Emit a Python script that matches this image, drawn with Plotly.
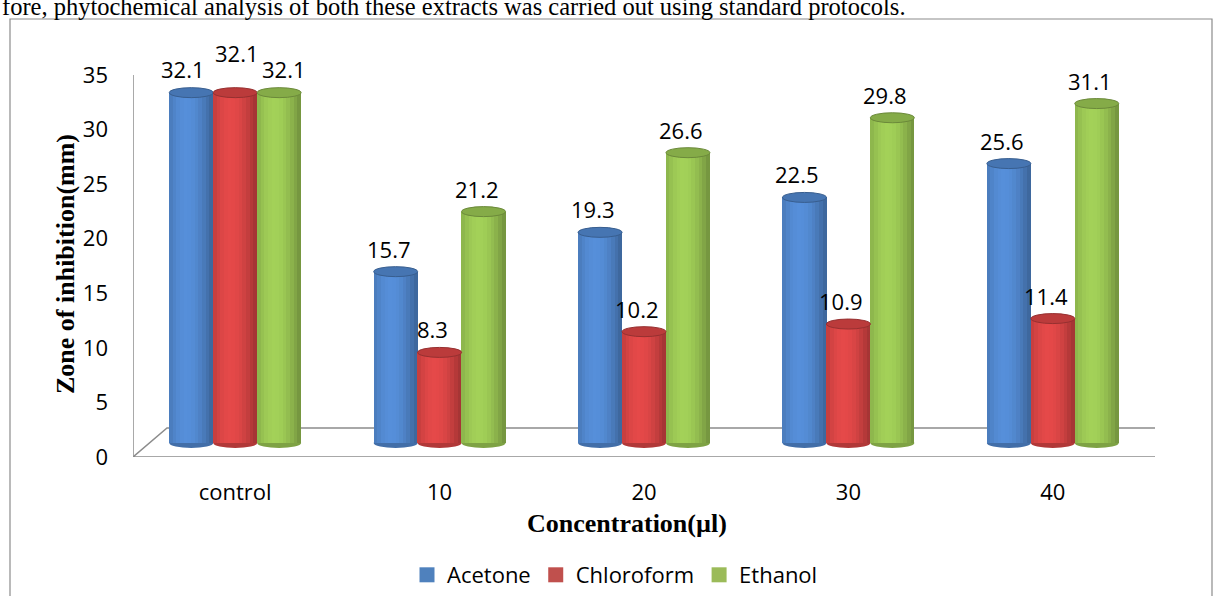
import math
import plotly.graph_objects as go

# ---- data -----------------------------------------------------------------
categories = ["control", "10", "20", "30", "40"]
series_names = ["Acetone", "Chloroform", "Ethanol"]
acetone = [32.1, 15.7, 19.3, 22.5, 25.6]
chloroform = [32.1, 8.3, 10.2, 10.9, 11.4]
ethanol = [32.1, 21.2, 26.6, 29.8, 31.1]
y_ticks = [0, 5, 10, 15, 20, 25, 30, 35]

series_values = [acetone, chloroform, ethanol]

# ---- styling --------------------------------------------------------------
legend_colors = ["#4F81BD", "#C0504D", "#9BBB59"]
body_rgb = [(78, 130, 198), (208, 66, 66), (148, 190, 80)]
TICK_FONT = "Open Sans"
TITLE_FONT = "Liberation Serif"

FIG_W, FIG_H = 1215, 596
M_L, M_R, M_T, M_B = 133, 60, 75, 139
PLOT_W = FIG_W - M_L - M_R
PLOT_H = FIG_H - M_T - M_B
Y_MAX = 35
PX_PER_UNIT = PLOT_H / Y_MAX
DEPTH_PX_Y = 14          # bars stand half-way into the floor
DEPTH_OFF = DEPTH_PX_Y / PX_PER_UNIT

BAR_W = 0.215             # width of one cylinder in category units
N_STRIPS = 12             # vertical slices used for cylinder shading
CAP_RY = 5 / PX_PER_UNIT  # half height of the elliptical caps


def px_to_paper_x(px):
    return (px - M_L) / PLOT_W


def px_to_paper_y(py):
    return (FIG_H - M_B - py) / PLOT_H


def shade(rgb, k):
    return "rgb({},{},{})".format(*[max(0, min(255, int(round(c * k)))) for c in rgb])


def shade_factor(t):
    # t in [-1, 1] across the cylinder; light comes slightly from the left
    c = math.cos((t + 0.2) * math.pi / 2.4)
    return 0.76 + 0.34 * max(0.0, c)


fig = go.Figure()

shapes = []
annotations = []
group_offsets = [-BAR_W, 0.0, BAR_W]
xs_cat = list(range(len(categories)))

for si, (vals, rgb) in enumerate(zip(series_values, body_rgb)):
    centers = [x + group_offsets[si] for x in xs_cat]
    strip_w = BAR_W / N_STRIPS
    for j in range(N_STRIPS):
        t = -1 + (2 * j + 1) / N_STRIPS
        fig.add_trace(go.Bar(
            x=[c + t * BAR_W / 2 for c in centers],
            y=vals,
            width=strip_w * 1.08,
            marker=dict(color=shade(rgb, shade_factor(t)), line=dict(width=0)),
            yaxis="y2",
            showlegend=False,
            hoverinfo="skip",
        ))
    for ci, (c, v) in enumerate(zip(centers, vals)):
        # top cap
        shapes.append(dict(
            type="circle", xref="x", yref="y2", layer="above",
            x0=c - BAR_W / 2, x1=c + BAR_W / 2, y0=v - CAP_RY, y1=v + CAP_RY,
            fillcolor=shade(rgb, 0.9), line=dict(color=shade(rgb, 0.72), width=1),
        ))
        # rounded bottom
        shapes.append(dict(
            type="circle", xref="x", yref="y2", layer="below",
            x0=c - BAR_W / 2, x1=c + BAR_W / 2, y0=-CAP_RY, y1=CAP_RY,
            fillcolor=shade(rgb, 0.85), line=dict(width=0),
        ))
        # value label
        xshift, yshift = -7, 23
        if ci == 0:
            xshift = [-8, 2, 5][si]
            yshift = [24, 40, 24][si]
        annotations.append(dict(
            x=c, y=v, xref="x", yref="y2", text=f"{v}", showarrow=False,
            xanchor="center", yanchor="middle", xshift=xshift, yshift=yshift,
            font=dict(family=TICK_FONT, size=22, color="#000000"),
        ))

# legend entries
for name, col in zip(series_names, legend_colors):
    fig.add_trace(go.Scatter(
        x=[None], y=[None], mode="markers", name=name,
        marker=dict(symbol="square", size=15, color=col),
    ))

# ---- floor, wall edge and frame ------------------------------------------
GRAY = "#8C8C8C"
back_dx_l = 34 / (PLOT_W / len(categories))
back_dx_r = 35 / (PLOT_W / len(categories))
back_dy = 29 / PX_PER_UNIT
x_lo, x_hi = -0.5, len(categories) - 0.5
floor_path = (f"M {x_lo},0 L {x_hi},0 L {x_hi + back_dx_r},{back_dy} "
              f"L {x_lo + back_dx_l},{back_dy} Z")
shapes.append(dict(type="path", xref="x", yref="y", path=floor_path,
                   line=dict(color=GRAY, width=1.5), layer="below"))
shapes.append(dict(type="line", xref="x", yref="y", x0=x_lo, x1=x_lo,
                   y0=0, y1=Y_MAX + 0.25, line=dict(color=GRAY, width=1.5),
                   layer="below"))
shapes.append(dict(type="rect", xref="paper", yref="paper",
                   x0=px_to_paper_x(10), x1=px_to_paper_x(1212),
                   y0=px_to_paper_y(640), y1=px_to_paper_y(19),
                   line=dict(color=GRAY, width=1.2), layer="below"))

# ---- titles and running text ---------------------------------------------
annotations.append(dict(
    x=px_to_paper_x(627), y=px_to_paper_y(523), xref="paper", yref="paper",
    text="<b>Concentration(µl)</b>", showarrow=False,
    xanchor="center", yanchor="middle",
    font=dict(family=TITLE_FONT, size=26, color="#000000"),
))
annotations.append(dict(
    x=px_to_paper_x(65), y=px_to_paper_y(264), xref="paper", yref="paper",
    text="<b>Zone of inhibition(mm)</b>", showarrow=False, textangle=-90,
    xanchor="center", yanchor="middle",
    font=dict(family=TITLE_FONT, size=26, color="#000000"),
))
annotations.append(dict(
    x=px_to_paper_x(0), y=px_to_paper_y(22), xref="paper", yref="paper",
    text="fore, phytochemical analysis of both these extracts was carried out using standard protocols.",
    showarrow=False, xanchor="left", yanchor="bottom",
    font=dict(family=TITLE_FONT, size=24.5, color="#000000"),
))

fig.update_layout(
    width=FIG_W, height=FIG_H,
    margin=dict(l=M_L, r=M_R, t=M_T, b=M_B, pad=0, autoexpand=False),
    paper_bgcolor="white", plot_bgcolor="white",
    barmode="overlay", bargap=0,
    shapes=shapes, annotations=annotations,
    xaxis=dict(
        range=[x_lo, x_hi], tickvals=xs_cat, ticktext=categories,
        showgrid=False, zeroline=False, showline=False, ticks="",
        ticklabelstandoff=20, automargin=False,
        tickfont=dict(family=TICK_FONT, size=22, color="#000000"),
    ),
    yaxis=dict(
        range=[0, Y_MAX], tickvals=y_ticks,
        showgrid=False, zeroline=False, showline=False, ticks="",
        ticklabelstandoff=24, automargin=False,
        tickfont=dict(family=TICK_FONT, size=22, color="#000000"),
    ),
    yaxis2=dict(range=[-DEPTH_OFF, Y_MAX - DEPTH_OFF], overlaying="y",
                visible=False, showgrid=False, zeroline=False),
    showlegend=True,
    legend=dict(
        orientation="h", x=px_to_paper_x(615), y=px_to_paper_y(575),
        xanchor="center", yanchor="middle",
        font=dict(family=TICK_FONT, size=22, color="#000000"),
        itemsizing="trace", bgcolor="rgba(0,0,0,0)",
    ),
)

fig.write_html("out.html")
